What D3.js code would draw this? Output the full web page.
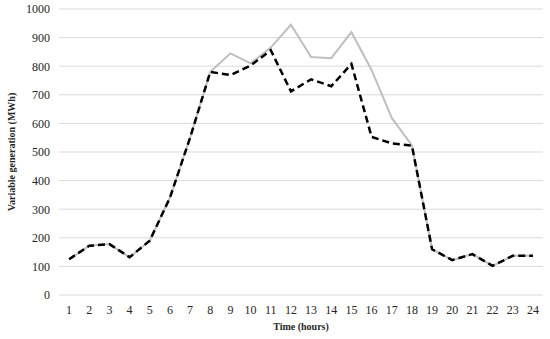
<!DOCTYPE html>
<html>
<head>
<meta charset="utf-8">
<script src="https://cdn.jsdelivr.net/npm/d3@7"></script>
<style>
	body { margin: 0; background: #fff; }
	svg { display: block; font-family: "Liberation Serif", "Times New Roman", serif; }
</style>
</head>
<body>
<svg id="chart" width="550" height="339"></svg>
<script>
// hours on the x axis
const hours = d3.range(1, 25);
// grey solid series
const seriesA = [125, 172, 178, 132, 190, 340, 550, 780, 845, 810, 865, 945, 832, 828, 919, 787, 619, 523, 160, 122, 143, 102, 137, 137];
// black dashed series
const seriesB = [125, 172, 178, 132, 190, 340, 550, 780, 769, 802, 856, 712, 754, 730, 808, 553, 530, 522, 160, 122, 143, 102, 137, 137];
const yTicks = [0, 100, 200, 300, 400, 500, 600, 700, 800, 900, 1000];

const svg = d3.select("#chart");
const margin = { top: 9, right: 7, bottom: 44, left: 59 };
const width = +svg.attr("width") - margin.left - margin.right;
const height = +svg.attr("height") - margin.top - margin.bottom;

const g = svg.append("g").attr("transform", `translate(${margin.left},${margin.top})`);

const x = d3.scaleBand().domain(hours).range([0, width]);
const y = d3.scaleLinear().domain([0, 1000]).range([height, 0]);

// gridlines
g.append("g")
	.selectAll("line")
	.data(yTicks)
	.join("line")
	.attr("x1", 0)
	.attr("x2", width)
	.attr("y1", (d) => y(d))
	.attr("y2", (d) => y(d))
	.attr("stroke", "#d9d9d9")
	.attr("stroke-width", 1);

// y axis
const yAxis = g.append("g").call(d3.axisLeft(y).tickValues(yTicks).tickFormat(d3.format("d")).tickSize(0).tickPadding(9));
yAxis.select(".domain").remove();
yAxis.selectAll("text").attr("font-size", 12).attr("fill", "#262626").attr("font-family", "Liberation Serif");

// x axis
const xAxis = g.append("g")
	.attr("transform", `translate(0,${height})`)
	.call(d3.axisBottom(x).tickSize(0).tickPadding(10));
xAxis.select(".domain").remove();
xAxis.selectAll("text").attr("font-size", 12).attr("fill", "#262626").attr("font-family", "Liberation Serif");

const cx = (i) => x(hours[i]) + x.bandwidth() / 2;
const line = d3.line().x((d, i) => cx(i)).y((d) => y(d));

g.append("path")
	.datum(seriesA)
	.attr("fill", "none")
	.attr("stroke", "#bfbfbf")
	.attr("stroke-width", 2)
	.attr("d", line);

g.append("path")
	.datum(seriesB)
	.attr("fill", "none")
	.attr("stroke", "#000")
	.attr("stroke-width", 2.5)
	.attr("stroke-dasharray", "7,4")
	.attr("d", line);

// axis titles
svg.append("text")
	.attr("x", margin.left + width / 2)
	.attr("y", 330)
	.attr("text-anchor", "middle")
	.attr("font-size", 10)
	.attr("font-weight", "bold")
	.attr("fill", "#262626")
	.text("Time (hours)");

svg.append("text")
	.attr("transform", `translate(15,${margin.top + height / 2}) rotate(-90)`)
	.attr("text-anchor", "middle")
	.attr("font-size", 10)
	.attr("font-weight", "bold")
	.attr("fill", "#262626")
	.text("Variable generation (MWh)");
</script>
</body>
</html>
